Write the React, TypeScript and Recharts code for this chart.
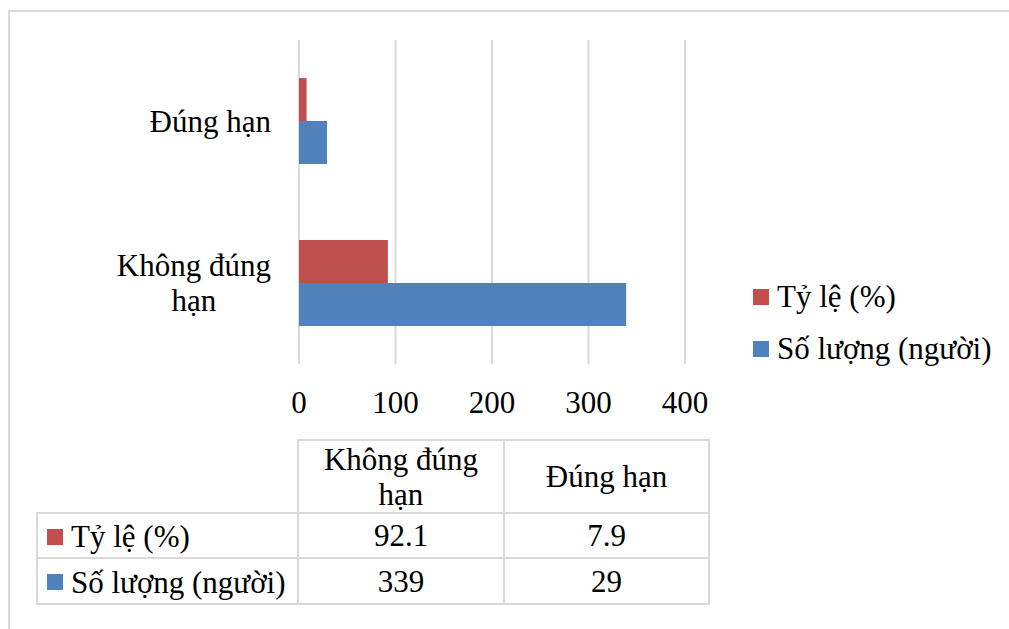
import React from "react";
import { BarChart, Bar, XAxis, YAxis, CartesianGrid } from "recharts";

const categories = ["Không đúng hạn", "Đúng hạn"];
const tyLe = [92.1, 7.9];
const soLuong = [339, 29];
const seriesNames = ["Tỷ lệ (%)", "Số lượng (người)"];
const seriesColors = ["#C0504D", "#4F81BD"];
const xTicks = [0, 100, 200, 300, 400];

const data = categories.map((name, i) => ({
  name,
  tyLe: tyLe[i],
  soLuong: soLuong[i],
}));

const FONT = "'Liberation Serif'";
const FS = 31;
const GRID = "#d9d9d9";

// greedy word wrap, roughly like Excel does for the axis labels
const wrap = (s: string, max = 10) => {
  const lines: string[] = [];
  let cur = "";
  s.split(" ").forEach((w) => {
    const next = cur ? cur + " " + w : w;
    if (next.length > max && cur) {
      lines.push(cur);
      cur = w;
    } else cur = next;
  });
  if (cur) lines.push(cur);
  return lines;
};

const Lines = ({ text }: { text: string }) => (
  <span style={{ display: "inline-block", textAlign: "center", whiteSpace: "nowrap" }}>
    {wrap(text).map((l, i) => (
      <div key={i}>{l}</div>
    ))}
  </span>
);

const XTick = (props: any) => {
  const { x, y, payload } = props;
  return (
    <text x={x} y={y + 49} textAnchor="middle" style={{ fontFamily: FONT, fontSize: FS }} fill="#000">
      {payload.value}
    </text>
  );
};

const YTick = (props: any) => {
  const { x, y, payload } = props;
  return (
    <foreignObject x={0} y={y - 50} width={x - 28} height={100}>
      <div
        style={{
          height: 100,
          display: "flex",
          alignItems: "center",
          justifyContent: "flex-end",
          fontFamily: FONT,
          fontSize: FS,
          lineHeight: "35px",
          color: "#000",
        }}
      >
        <Lines text={payload.value} />
      </div>
    </foreignObject>
  );
};

const Swatch = ({ color }: { color: string }) => (
  <span style={{ display: "inline-block", width: 16, height: 16, background: color, marginRight: 8 }} />
);

const SideLegend = () => (
  <div style={{ position: "absolute", left: 753, top: 279, fontFamily: FONT, fontSize: FS, lineHeight: "35px" }}>
    {seriesNames.map((n, i) => (
      <div key={n} style={{ display: "flex", alignItems: "center", height: 35, marginBottom: i === 0 ? 17 : 0, whiteSpace: "nowrap" }}>
        <Swatch color={seriesColors[i]} />
        {n}
      </div>
    ))}
  </div>
);

const border = `2px solid ${GRID}`;

const DataTable = () => {
  const rows = [tyLe, soLuong];
  const cell: React.CSSProperties = { border, textAlign: "center", padding: 0, verticalAlign: "middle" };
  return (
    <table
      style={{
        position: "absolute",
        left: 36,
        top: 439,
        width: 672,
        borderCollapse: "collapse",
        tableLayout: "fixed",
        fontFamily: FONT,
        fontSize: FS,
        lineHeight: "35px",
        color: "#000",
      }}
    >
      <colgroup>
        <col style={{ width: 261 }} />
        <col style={{ width: 206 }} />
        <col style={{ width: 205 }} />
      </colgroup>
      <tbody>
        <tr style={{ height: 73 }}>
          <td style={{ border: "none", borderRight: border, borderBottom: border }} />
          {categories.map((c) => (
            <td key={c} style={cell}>
              <Lines text={c} />
            </td>
          ))}
        </tr>
        {rows.map((vals, r) => (
          <tr key={r} style={{ height: r === 0 ? 45 : 46 }}>
            <td style={{ ...cell, textAlign: "left", paddingLeft: 9, whiteSpace: "nowrap" }}>
              <span style={{ display: "inline-flex", alignItems: "center" }}>
                <Swatch color={seriesColors[r]} />
                {seriesNames[r]}
              </span>
            </td>
            {vals.map((v, i) => (
              <td key={i} style={cell}>
                {v}
              </td>
            ))}
          </tr>
        ))}
      </tbody>
    </table>
  );
};

export default function App() {
  return (
    <div style={{ position: "relative", width: 1009, height: 629, background: "#fff", overflow: "hidden", fontFamily: FONT }}>
      <style>{`html,body{margin:0;overflow:hidden;background:#fff}`}</style>
      <div
        style={{
          position: "absolute",
          left: 8,
          top: 10,
          width: 1020,
          height: 640,
          borderLeft: border,
          borderTop: border,
        }}
      />
      <div style={{ position: "absolute", left: 0, top: 0 }}>
        <BarChart
          width={1009}
          height={629}
          data={data}
          layout="vertical"
          margin={{ top: 40, right: 324, bottom: 205, left: 0 }}
          barCategoryGap="23.5%"
          barGap={0}
        >
          <CartesianGrid horizontal={false} stroke={GRID} strokeWidth={2} />
          <XAxis
            type="number"
            domain={[0, 400]}
            ticks={xTicks}
            axisLine={false}
            tickLine={false}
            tickSize={0}
            tickMargin={0}
            height={60}
            tick={<XTick />}
            interval={0}
          />
          <YAxis
            type="category"
            dataKey="name"
            reversed
            width={299}
            axisLine={false}
            tickLine={false}
            tickSize={0}
            tickMargin={0}
            tick={<YTick />}
            interval={0}
          />
          <Bar dataKey="tyLe" name={seriesNames[0]} fill={seriesColors[0]} isAnimationActive={false} />
          <Bar dataKey="soLuong" name={seriesNames[1]} fill={seriesColors[1]} isAnimationActive={false} />
        </BarChart>
      </div>
      <SideLegend />
      <DataTable />
    </div>
  );
}
